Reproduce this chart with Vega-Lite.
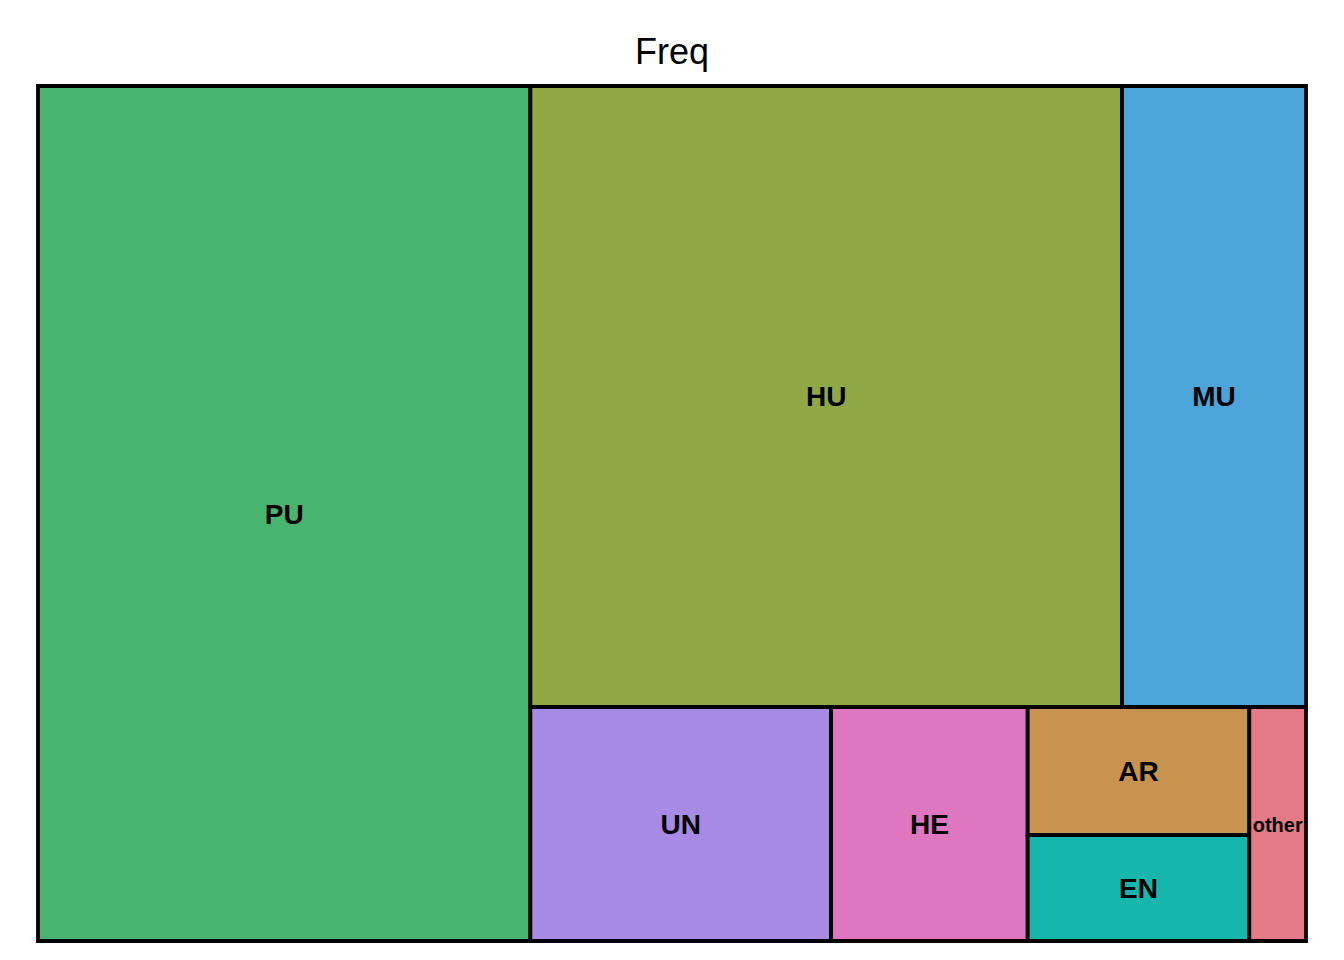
{
  "$schema": "https://vega.github.io/schema/vega-lite/v6.json",
  "width": 1268,
  "height": 855,
  "autosize": {"type": "none"},
  "padding": {"left": 38, "top": 86, "right": 38, "bottom": 19},
  "background": "white",
  "title": {"text": "Freq", "font": "Liberation Sans", "fontSize": 36, "fontWeight": "normal", "color": "black", "anchor": "middle", "baseline": "alphabetic", "offset": -16},
  "config": {"view": {"stroke": null}},
  "data": {"values": [
    {"label": "PU", "x0": 0, "x1": 0.3883, "y0": 0, "y1": 1},
    {"label": "HU", "x0": 0.3883, "x1": 0.8549, "y0": 0, "y1": 0.7263},
    {"label": "MU", "x0": 0.8549, "x1": 1, "y0": 0, "y1": 0.7263},
    {"label": "UN", "x0": 0.3883, "x1": 0.6255, "y0": 0.7263, "y1": 1},
    {"label": "HE", "x0": 0.6255, "x1": 0.7805, "y0": 0.7263, "y1": 1},
    {"label": "AR", "x0": 0.7805, "x1": 0.9553, "y0": 0.7263, "y1": 0.876},
    {"label": "EN", "x0": 0.7805, "x1": 0.9553, "y0": 0.876, "y1": 1},
    {"label": "other", "x0": 0.9553, "x1": 1, "y0": 0.7263, "y1": 1}
  ]},
  "layer": [
    {
      "mark": {"type": "rect", "stroke": "black", "strokeWidth": 3.8},
      "encoding": {
        "x": {"field": "x0", "type": "quantitative", "scale": {"domain": [0, 1], "nice": false, "zero": false}, "axis": null},
        "x2": {"field": "x1"},
        "y": {"field": "y0", "type": "quantitative", "scale": {"domain": [0, 1], "nice": false, "zero": false, "reverse": true}, "axis": null},
        "y2": {"field": "y1"},
        "fill": {"field": "label", "type": "nominal", "legend": null,
          "scale": {"domain": ["PU", "HU", "MU", "UN", "HE", "AR", "EN", "other"],
                    "range": ["#48B470", "#8FA845", "#4BA5D9", "#A78AE3", "#DF76C0", "#C8924F", "#17B6AD", "#E47A86"]}}
      }
    },
    {
      "transform": [
        {"calculate": "(datum.x0 + datum.x1) / 2", "as": "xm"},
        {"calculate": "(datum.y0 + datum.y1) / 2", "as": "ym"}
      ],
      "mark": {"type": "text", "font": "Liberation Sans", "fontWeight": "bold", "color": "black", "align": "center", "baseline": "middle", "dy": 2},
      "encoding": {
        "x": {"field": "xm", "type": "quantitative"},
        "y": {"field": "ym", "type": "quantitative"},
        "text": {"field": "label"},
        "size": {"condition": {"test": "datum.label === 'other'", "value": 20}, "value": 28}
      }
    }
  ]
}
